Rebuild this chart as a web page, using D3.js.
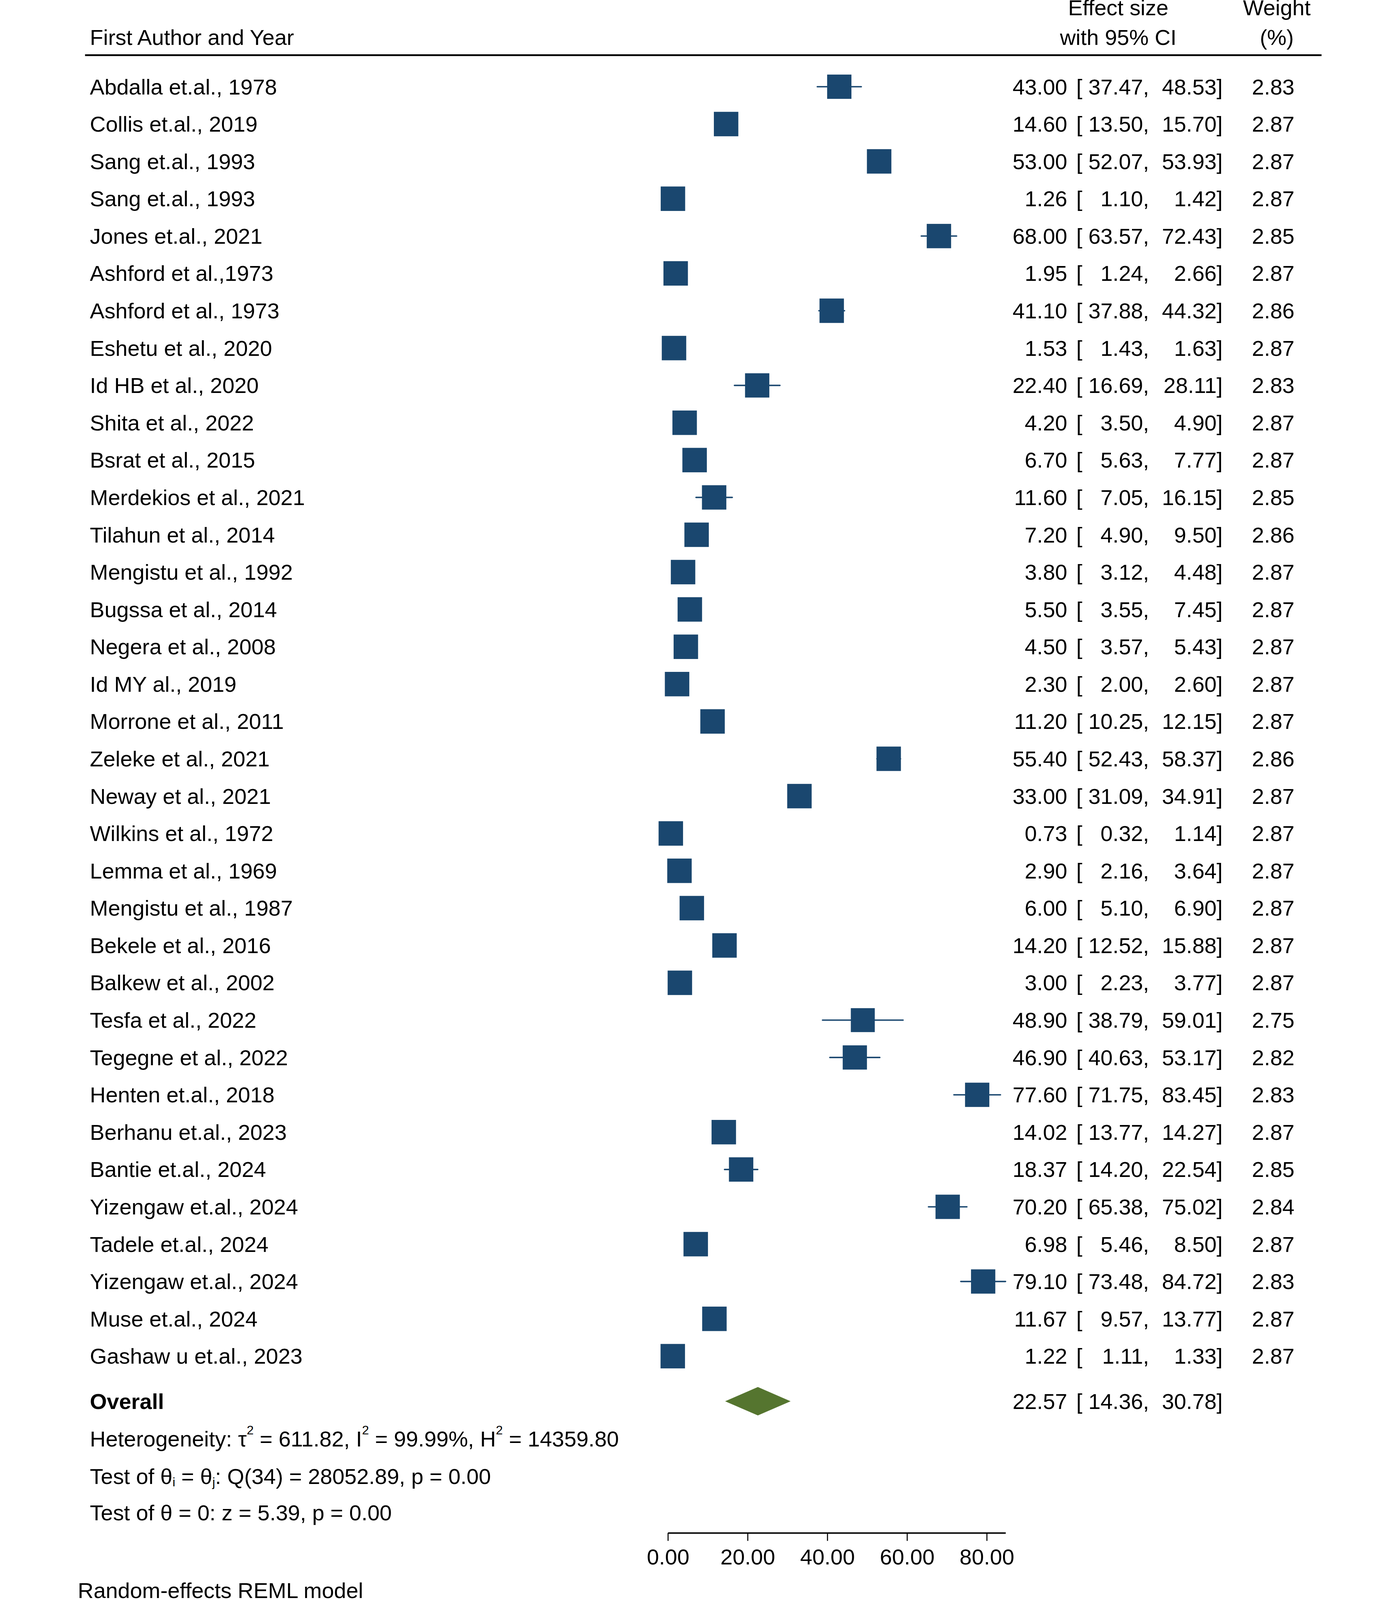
<!DOCTYPE html>
<html>
<head>
<meta charset="utf-8">
<script src="https://cdnjs.cloudflare.com/ajax/libs/d3/7.8.5/d3.min.js"></script>
<style>
  html, body { margin: 0; padding: 0; background: #fff; overflow: hidden; }
  svg { display: block; width: 100vw; height: 100vh; }
  svg text { font-family: "Liberation Sans", Arial, Helvetica, sans-serif; fill: #000; }
</style>
</head>
<body>
<svg id="forest_svg" viewBox="0 0 3583 4613" preserveAspectRatio="xMidYMid meet"></svg>
<script>
// study rows, top to bottom
var studies = ["Abdalla et.al., 1978", "Collis et.al., 2019", "Sang et.al., 1993", "Sang et.al., 1993",
  "Jones et.al., 2021", "Ashford et al.,1973", "Ashford et al., 1973", "Eshetu et al., 2020",
  "Id HB et al., 2020", "Shita et al., 2022", "Bsrat et al., 2015", "Merdekios et al., 2021",
  "Tilahun et al., 2014", "Mengistu et al., 1992", "Bugssa et al., 2014", "Negera et al., 2008",
  "Id MY al., 2019", "Morrone et al., 2011", "Zeleke et al., 2021", "Neway et al., 2021",
  "Wilkins et al., 1972", "Lemma et al., 1969", "Mengistu et al., 1987", "Bekele et al., 2016",
  "Balkew et al., 2002", "Tesfa et al., 2022", "Tegegne et al., 2022", "Henten et.al., 2018",
  "Berhanu et.al., 2023", "Bantie et.al., 2024", "Yizengaw et.al., 2024", "Tadele et.al., 2024",
  "Yizengaw et.al., 2024", "Muse et.al., 2024", "Gashaw u et.al., 2023"];
var effect = [43.00, 14.60, 53.00, 1.26, 68.00, 1.95, 41.10, 1.53, 22.40, 4.20, 6.70, 11.60,
  7.20, 3.80, 5.50, 4.50, 2.30, 11.20, 55.40, 33.00, 0.73, 2.90, 6.00, 14.20, 3.00, 48.90,
  46.90, 77.60, 14.02, 18.37, 70.20, 6.98, 79.10, 11.67, 1.22];
var lower = [37.47, 13.50, 52.07, 1.10, 63.57, 1.24, 37.88, 1.43, 16.69, 3.50, 5.63, 7.05,
  4.90, 3.12, 3.55, 3.57, 2.00, 10.25, 52.43, 31.09, 0.32, 2.16, 5.10, 12.52, 2.23, 38.79,
  40.63, 71.75, 13.77, 14.20, 65.38, 5.46, 73.48, 9.57, 1.11];
var upper = [48.53, 15.70, 53.93, 1.42, 72.43, 2.66, 44.32, 1.63, 28.11, 4.90, 7.77, 16.15,
  9.50, 4.48, 7.45, 5.43, 2.60, 12.15, 58.37, 34.91, 1.14, 3.64, 6.90, 15.88, 3.77, 59.01,
  53.17, 83.45, 14.27, 22.54, 75.02, 8.50, 84.72, 13.77, 1.33];
var weight = [2.83, 2.87, 2.87, 2.87, 2.85, 2.87, 2.86, 2.87, 2.83, 2.87, 2.87, 2.85,
  2.86, 2.87, 2.87, 2.87, 2.87, 2.87, 2.86, 2.87, 2.87, 2.87, 2.87, 2.87, 2.87, 2.75,
  2.82, 2.83, 2.87, 2.85, 2.84, 2.87, 2.83, 2.87, 2.87];
var overall = { es: 22.57, lo: 14.36, hi: 30.78 };
var xTicks = [0, 20, 40, 60, 80];

var navy = "#1a476f", green = "#55752f";
var fs = 63;
var svg = d3.select("#forest_svg");

var rows = studies.map(function(s, i) {
  return { name: s, es: effect[i], lo: lower[i], hi: upper[i], w: weight[i], i: i };
});

// x scale: 0..80 maps onto 1699..2618, axis runs to the largest upper bound
var pxPerUnit = (2618 - 1699) / 80;
var xMax = Math.max(d3.max(upper), d3.max(xTicks));
var x = d3.scaleLinear().domain([0, xMax]).range([1699, 1699 + xMax * pxPerUnit]);
var y = d3.scaleLinear().domain([0, rows.length - 1]).range([250, 3910]);
var side = d3.scaleSqrt().domain([0, 2.87]).range([0, 70.5]);
var f2 = d3.format(".2f");

// header
svg.append("text").attr("x", 33).attr("y", 130).attr("font-size", fs).text("First Author and Year");
svg.append("text").attr("x", 2997).attr("y", 44).attr("font-size", fs).attr("text-anchor", "middle").text("Effect size");
svg.append("text").attr("x", 2997).attr("y", 129).attr("font-size", fs).attr("text-anchor", "middle").text("with 95% CI");
svg.append("text").attr("x", 3454).attr("y", 44).attr("font-size", fs).attr("text-anchor", "middle").text("Weight");
svg.append("text").attr("x", 3454).attr("y", 129).attr("font-size", fs).attr("text-anchor", "middle").text("(%)");
svg.append("line").attr("x1", 19).attr("x2", 3583).attr("y1", 159).attr("y2", 159)
  .attr("stroke", "#000").attr("stroke-width", 5);

// study names
svg.selectAll("text.study").data(rows).enter().append("text")
  .attr("class", "study")
  .attr("x", 33)
  .attr("y", function(d) { return y(d.i) + 22; })
  .attr("font-size", fs)
  .text(function(d) { return d.name; });

// confidence intervals then boxes
svg.selectAll("line.ci").data(rows).enter().append("line")
  .attr("class", "ci")
  .attr("x1", function(d) { return x(d.lo); })
  .attr("x2", function(d) { return x(d.hi); })
  .attr("y1", function(d) { return y(d.i); })
  .attr("y2", function(d) { return y(d.i); })
  .attr("stroke", navy).attr("stroke-width", 4).attr("stroke-linecap", "round");

svg.selectAll("rect.box").data(rows).enter().append("rect")
  .attr("class", "box")
  .attr("x", function(d) { return x(d.es) - side(d.w) / 2; })
  .attr("y", function(d) { return y(d.i) - side(d.w) / 2; })
  .attr("width", function(d) { return side(d.w); })
  .attr("height", function(d) { return side(d.w); })
  .attr("fill", navy);

// numeric columns
function numCols(sel, yFn) {
  sel.append("text").attr("x", 2850).attr("y", yFn).attr("font-size", fs).attr("text-anchor", "end")
    .text(function(d) { return f2(d.es); });
  sel.append("text").attr("x", 2876).attr("y", yFn).attr("font-size", fs).text("[");
  sel.append("text").attr("x", 3086).attr("y", yFn).attr("font-size", fs).attr("text-anchor", "end")
    .text(function(d) { return f2(d.lo) + ","; });
  sel.append("text").attr("x", 3298).attr("y", yFn).attr("font-size", fs).attr("text-anchor", "end")
    .text(function(d) { return f2(d.hi) + "]"; });
}
var rowG = svg.selectAll("g.nums").data(rows).enter().append("g").attr("class", "nums");
numCols(rowG, function(d) { return y(d.i) + 22; });
rowG.append("text").attr("x", 3505).attr("y", function(d) { return y(d.i) + 22; })
  .attr("font-size", fs).attr("text-anchor", "end")
  .text(function(d) { return f2(d.w); });

// overall
var yOverall = 4040;
svg.append("text").attr("x", 33).attr("y", yOverall + 22).attr("font-size", fs)
  .attr("font-weight", "bold").text("Overall");
svg.append("path")
  .attr("d", d3.line()([[x(overall.lo), yOverall], [x(overall.es), yOverall - 41],
    [x(overall.hi), yOverall], [x(overall.es), yOverall + 41]]) + "Z")
  .attr("fill", green);
var ovG = svg.append("g").datum(overall);
numCols(ovG, yOverall + 22);

// heterogeneity and tests
var sub = 36;
var t1 = svg.append("text").attr("x", 33).attr("y", 4170).attr("font-size", fs);
t1.append("tspan").text("Heterogeneity: \u03c4");
t1.append("tspan").attr("font-size", sub).attr("dy", -34).text("2");
t1.append("tspan").attr("dy", 34).text(" = 611.82, I");
t1.append("tspan").attr("font-size", sub).attr("dy", -34).text("2");
t1.append("tspan").attr("dy", 34).text(" = 99.99%, H");
t1.append("tspan").attr("font-size", sub).attr("dy", -34).text("2");
t1.append("tspan").attr("dy", 34).text(" = 14359.80");

var t2 = svg.append("text").attr("x", 33).attr("y", 4278).attr("font-size", fs);
t2.append("tspan").text("Test of \u03b8");
t2.append("tspan").attr("font-size", sub).attr("dy", 7).text("i");
t2.append("tspan").attr("dy", -7).text(" = \u03b8");
t2.append("tspan").attr("font-size", sub).attr("dy", 7).text("j");
t2.append("tspan").attr("dy", -7).text(": Q(34) = 28052.89, p = 0.00");

svg.append("text").attr("x", 33).attr("y", 4383).attr("font-size", fs)
  .text("Test of \u03b8 = 0: z = 5.39, p = 0.00");

// x axis
var axis = d3.axisBottom(x).tickValues(xTicks).tickFormat(f2).tickSize(23).tickSizeOuter(0).tickPadding(23);
var ax = svg.append("g").attr("transform", "translate(0,4419.5)").call(axis);
ax.select(".domain").attr("stroke", "#000").attr("stroke-width", 4);
ax.selectAll(".tick line").attr("stroke", "#000").attr("stroke-width", 3);
ax.selectAll(".tick text").attr("font-size", fs).attr("font-family", "Liberation Sans, Arial, sans-serif").attr("fill", "#000");

svg.append("text").attr("x", -2).attr("y", 4607).attr("font-size", fs).text("Random-effects REML model");
</script>
</body>
</html>
